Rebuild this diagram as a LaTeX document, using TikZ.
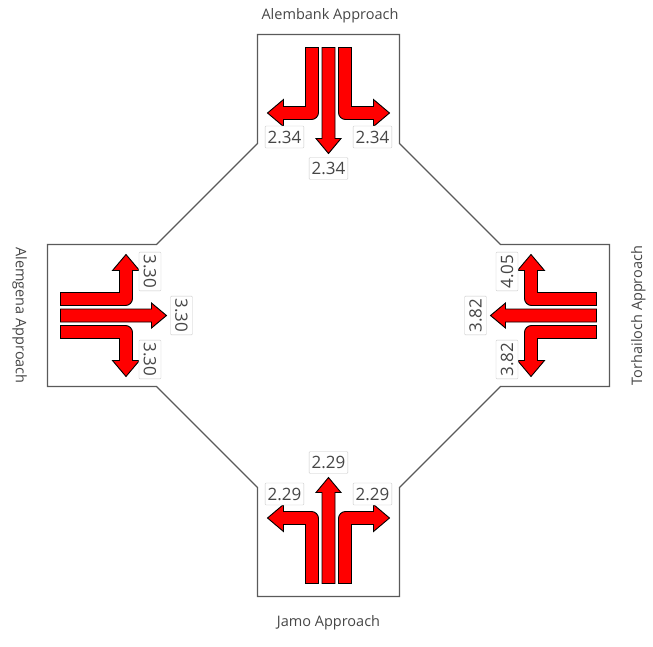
\documentclass[tikz,border=0pt]{standalone}
\usepackage{fontspec}
\setmainfont{Open Sans}
\usepackage{tikz}
\definecolor{laneline}{RGB}{90,90,90}
\definecolor{turnred}{RGB}{255,0,0}
\definecolor{vcgray}{RGB}{70,70,70}

% three movement arrows of one approach, drawn as for the top approach
\newcommand{\approacharrows}{%
  \draw[movearrow] (-10,268) -- (-10,203) arc[start angle=0, end angle=-90, radius=7]
    -- (-45,196) -- (-45,189) -- (-61,202.5) -- (-45,216) -- (-45,209) -- (-23,209) -- (-23,268) -- cycle;
  \draw[movearrow] (-6.5,268) -- (-6.5,177) -- (-12.5,177) -- (0,162) -- (12.5,177) -- (6.5,177) -- (6.5,268) -- cycle;
  \draw[movearrow] (10,268) -- (10,203) arc[start angle=180, end angle=270, radius=7]
    -- (45,196) -- (45,189) -- (61,202.5) -- (45,216) -- (45,209) -- (23,209) -- (23,268) -- cycle;
}

\begin{document}
\begin{tikzpicture}[
        x=1pt, y=1pt,
        movearrow/.style={fill=turnred, draw=black, line width=0.9pt, line join=miter},
        vcratio/.style={draw=black!22, fill=white, text=vcgray, rounded corners=1pt,
          font=\fontsize{17}{17}\selectfont, inner xsep=2.5pt, inner ysep=0pt, minimum height=22pt},
        apptitle/.style={text=vcgray, font=\fontsize{14.5}{15}\selectfont, anchor=base}
      ]
      \useasboundingbox (-328.5,-330.5) rectangle (324.5,315.5);
      % road outline
      \draw[laneline, line width=1.2pt] (-71,281) -- (71,281) -- (71,172) -- (172,71) -- (281,71)
        -- (281,-71) -- (172,-71) -- (71,-172) -- (71,-281) -- (-71,-281) -- (-71,-172)
        -- (-172,-71) -- (-281,-71) -- (-281,71) -- (-172,71) -- (-71,172) -- cycle;

      % Alembank (top)
      \begin{scope}
        \approacharrows
        \node[vcratio] (alembankL) at (-44,178.5) {2.34};
        \node[vcratio] (alembankT) at (0,147) {2.34};
        \node[vcratio] (alembankR) at (44,178.5) {2.34};
      \end{scope}
      % Alemgena (left)
      \begin{scope}[rotate=90]
        \approacharrows
        \node[vcratio, rotate=-90] (alemgenaL) at (-44,178.5) {3.30};
        \node[vcratio, rotate=-90] (alemgenaT) at (0,147) {3.30};
        \node[vcratio, rotate=-90] (alemgenaR) at (44,178.5) {3.30};
      \end{scope}
      % Jamo (bottom)
      \begin{scope}[rotate=180]
        \approacharrows
        \node[vcratio] (jamoL) at (-44,178.5) {2.29};
        \node[vcratio] (jamoT) at (0,147) {2.29};
        \node[vcratio] (jamoR) at (44,178.5) {2.29};
      \end{scope}
      % Torhailoch (right)
      \begin{scope}[rotate=-90]
        \approacharrows
        \node[vcratio, rotate=90] (torhailochL) at (-44,178.5) {4.05};
        \node[vcratio, rotate=90] (torhailochT) at (0,147) {3.82};
        \node[vcratio, rotate=90] (torhailochR) at (44,178.5) {3.82};
      \end{scope}

      \node[apptitle] (alembank) at (1.5,296) {Alembank Approach};
      \node[apptitle] (jamo) at (0,-310.5) {Jamo Approach};
      \node[apptitle, rotate=-90] (alemgena) at (-312.5,0) {Alemgena Approach};
      \node[apptitle, rotate=90] (torhailoch) at (313.5,0) {Torhailoch Approach};
    \end{tikzpicture}
\end{document}
